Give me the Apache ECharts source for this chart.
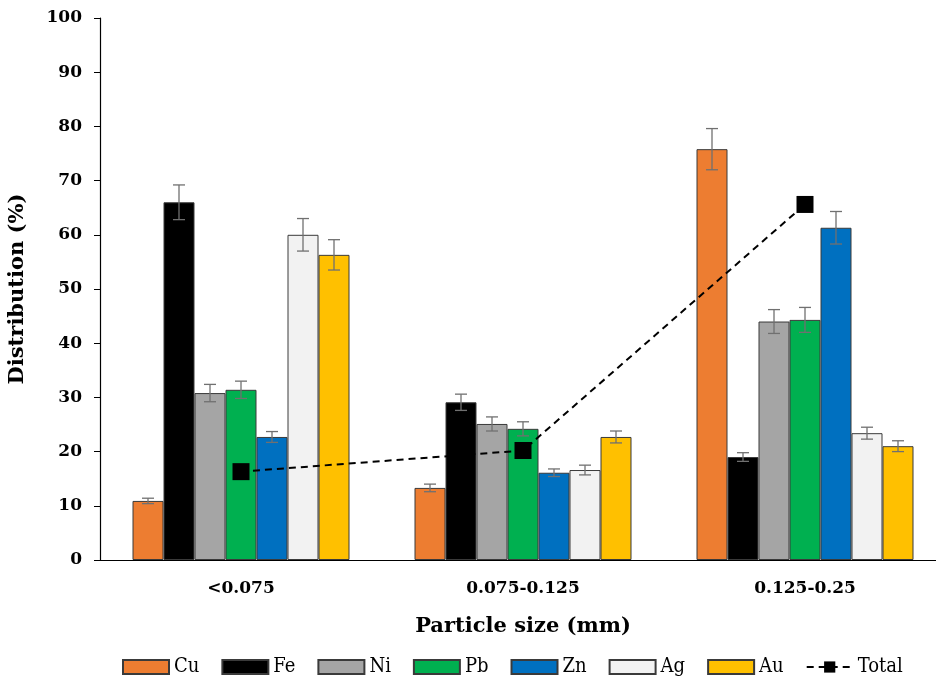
<!DOCTYPE html>
<html>
<head>
<meta charset="utf-8">
<script src="https://cdn.jsdelivr.net/npm/echarts@6/dist/echarts.min.js"></script>
<style>
  html, body { margin: 0; padding: 0; background: #fff; }
  #chart { width: 936px; height: 683px; }
</style>
</head>
<body>
<div id="chart"></div>
<script>
const categories = ['<0.075', '0.075-0.125', '0.125-0.25'];
const metals = ['Cu', 'Fe', 'Ni', 'Pb', 'Zn', 'Ag', 'Au'];
const colors = ['#ed7d31', '#000000', '#a5a5a5', '#00b050', '#0070c0', '#f2f2f2', '#ffc000'];

// distribution (%) per metal, one value per size class
const cu = [10.9, 13.3, 75.8];
const fe = [66.0, 29.1, 19.0];
const ni = [30.8, 25.1, 44.0];
const pb = [31.4, 24.2, 44.3];
const zn = [22.7, 16.1, 61.3];
const ag = [60.0, 16.6, 23.4];
const au = [56.3, 22.7, 21.0];
const total = [16.3, 20.2, 65.6];

// error bar half-widths
const cuErr = [0.5, 0.7, 3.8];
const feErr = [3.2, 1.5, 0.8];
const niErr = [1.6, 1.3, 2.2];
const pbErr = [1.6, 1.3, 2.3];
const znErr = [1.0, 0.7, 3.0];
const agErr = [3.0, 0.9, 1.1];
const auErr = [2.8, 1.1, 1.0];

const values = [cu, fe, ni, pb, zn, ag, au];
const errors = [cuErr, feErr, niErr, pbErr, znErr, agErr, auErr];

const BAR_W = 31;
const font = '"DejaVu Serif", serif';
const legendFont = '"DejaVu Serif Condensed", "Liberation Serif", serif';

function errRender(k) {
  return function (params, api) {
    const cat = api.value(0), v = api.value(1), e = api.value(2);
    const c = api.coord([cat, v]);
    const hi = api.coord([cat, v + e]);
    const lo = api.coord([cat, v - e]);
    const x = c[0] + (k - 3) * BAR_W;
    const style = { stroke: '#707070', lineWidth: 1.3 };
    return {
      type: 'group',
      children: [
        { type: 'line', shape: { x1: x, y1: hi[1], x2: x, y2: lo[1] }, style },
        { type: 'line', shape: { x1: x - 6, y1: hi[1], x2: x + 6, y2: hi[1] }, style },
        { type: 'line', shape: { x1: x - 6, y1: lo[1], x2: x + 6, y2: lo[1] }, style }
      ]
    };
  };
}

const series = [];
metals.forEach((m, k) => {
  series.push({
    name: m,
    type: 'bar',
    data: values[k],
    barWidth: BAR_W,
    barGap: '0%',
    itemStyle: { color: colors[k], borderColor: '#3a3a3a', borderWidth: 1 }
  });
});
metals.forEach((m, k) => {
  series.push({
    name: m + ' err',
    type: 'custom',
    renderItem: errRender(k),
    encode: { x: 0, y: 1 },
    data: values[k].map((v, i) => [i, v, errors[k][i]]),
    z: 5
  });
});
series.push({
  name: 'Total',
  type: 'line',
  data: total,
  symbol: 'rect',
  symbolSize: 17,
  itemStyle: { color: '#000' },
  lineStyle: { color: '#000', width: 2, type: [7, 5] },
  z: 6
});

const chart = echarts.init(document.getElementById('chart'));
chart.setOption({
  animation: false,
  backgroundColor: '#fff',
  grid: { left: 100, top: 18, width: 846, bottom: 123, outerBoundsMode: 'none' },
  legend: {
    data: metals.map(m => ({ name: m, icon: 'rect' })).concat([{ name: 'Total' }]),
    bottom: 1,
    left: 117,
    itemWidth: 46,
    itemHeight: 14,
    itemGap: 22,
    textStyle: { fontFamily: legendFont, fontSize: 20, color: '#000' }
  },
  xAxis: [{
    type: 'category',
    data: categories,
    name: 'Particle size (mm)',
    nameLocation: 'middle',
    nameGap: 56,
    nameTextStyle: { fontFamily: font, fontWeight: 'bold', fontSize: 21, color: '#000' },
    axisLine: { lineStyle: { color: '#000', width: 1.2 } },
    axisTick: { alignWithLabel: true, length: 5, lineStyle: { color: '#000' } },
    axisLabel: { fontFamily: font, fontWeight: 'bold', fontSize: 17, color: '#000', margin: 20 }
  }, {
    type: 'category',
    data: categories,
    position: 'bottom',
    axisLine: { show: false },
    axisTick: { length: 5, lineStyle: { color: '#000' } },
    axisLabel: { show: false }
  }],
  yAxis: {
    type: 'value',
    min: 0,
    max: 100,
    interval: 10,
    name: 'Distribution (%)',
    nameLocation: 'middle',
    nameGap: 72,
    nameTextStyle: { fontFamily: font, fontWeight: 'bold', fontSize: 21, color: '#000' },
    axisLine: { show: true, lineStyle: { color: '#000', width: 1.2 } },
    axisTick: { show: true, length: 6, lineStyle: { color: '#000' } },
    axisLabel: { fontFamily: font, fontWeight: 'bold', fontSize: 17, color: '#000', margin: 18 },
    splitLine: { show: false }
  },
  series
});
</script>
</body>
</html>
